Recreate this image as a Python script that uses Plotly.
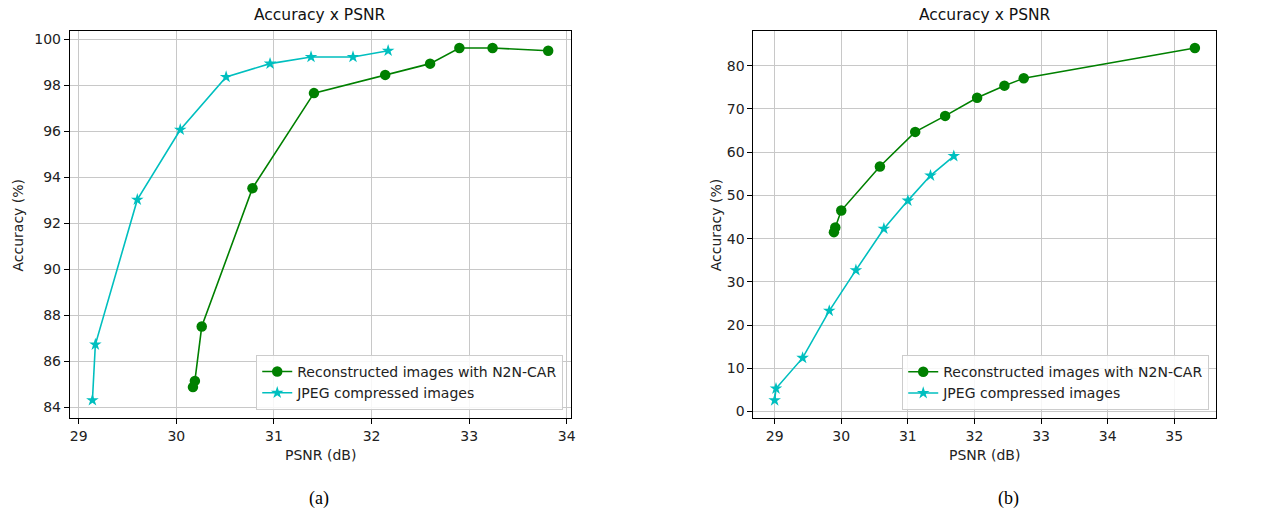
import plotly.graph_objects as go

# ---- data (a) ----
a_n2n_psnr = [30.17, 30.19, 30.26, 30.78, 31.41, 32.14, 32.60, 32.90, 33.24, 33.81]
a_n2n_acc = [84.89, 85.16, 87.52, 93.53, 97.66, 98.45, 98.94, 99.62, 99.62, 99.50]
a_jpeg_psnr = [29.14, 29.17, 29.60, 30.04, 30.51, 30.96, 31.38, 31.81, 32.17]
a_jpeg_acc = [84.32, 86.74, 93.03, 96.07, 98.36, 98.94, 99.23, 99.23, 99.50]

# ---- data (b) ----
b_n2n_psnr = [29.89, 29.91, 30.00, 30.58, 31.11, 31.56, 32.04, 32.45, 32.74, 35.31]
b_n2n_acc = [41.5, 42.6, 46.5, 56.7, 64.7, 68.4, 72.6, 75.4, 77.1, 84.1]
b_jpeg_psnr = [29.00, 29.02, 29.42, 29.82, 30.22, 30.64, 31.00, 31.34, 31.69]
b_jpeg_acc = [2.6, 5.3, 12.4, 23.3, 32.7, 42.3, 48.8, 54.6, 59.1]

series_names = ["Reconstructed images with N2N-CAR", "JPEG compressed images"]
titles = ["Accuracy x PSNR", "Accuracy x PSNR"]
x_label = "PSNR (dB)"
y_label = "Accuracy (%)"
captions = ["(a)", "(b)"]

GREEN = "#008000"
CYAN = "#00bfbf"
W, H = 1285, 514
FONT = "DejaVu Sans"
FS = 14


def px(xp):
    return xp / W


def py(yp):
    return 1 - yp / H


fig = go.Figure()


def add_series(xs, ys, name, color, symbol, size, xa, ya, legend):
    fig.add_trace(go.Scatter(
        x=xs, y=ys, name=name, mode="lines+markers",
        line=dict(color=color, width=1.6),
        marker=dict(color=color, symbol=symbol, size=size, line=dict(width=0)),
        xaxis=xa, yaxis=ya, legend=legend, showlegend=True,
    ))


add_series(a_n2n_psnr, a_n2n_acc, series_names[0], GREEN, "circle", 10.5, "x", "y", "legend")
add_series(a_jpeg_psnr, a_jpeg_acc, series_names[1], CYAN, "star", 9.5, "x", "y", "legend")
add_series(b_n2n_psnr, b_n2n_acc, series_names[0], GREEN, "circle", 10.5, "x2", "y2", "legend2")
add_series(b_jpeg_psnr, b_jpeg_acc, series_names[1], CYAN, "star", 9.5, "x2", "y2", "legend2")

axis_common = dict(
    showline=True, linecolor="black", linewidth=1, mirror=True,
    ticks="outside", ticklen=5, tickcolor="black", tickwidth=1,
    showgrid=True, gridcolor="#c8c8c8", gridwidth=1, zeroline=False,
    tickfont=dict(family=FONT, size=FS, color="#222"),
)

yd = [py(419), py(31)]
legend_common = dict(xanchor="right", yanchor="bottom",
                     bgcolor="rgba(255,255,255,0.85)", bordercolor="#cccccc", borderwidth=1,
                     font=dict(family=FONT, size=FS, color="#222"), tracegroupgap=0)
fig.update_layout(
    width=W, height=H,
    margin=dict(l=0, r=0, t=0, b=0),
    paper_bgcolor="white", plot_bgcolor="white",
    font=dict(family=FONT, size=FS, color="#222"),
    xaxis=dict(domain=[px(70), px(573)], range=[28.908, 34.046], dtick=1, anchor="y", **axis_common),
    yaxis=dict(domain=yd, range=[83.54, 100.36], dtick=2, anchor="x", **axis_common),
    xaxis2=dict(domain=[px(755.7), px(1220)], range=[28.68, 35.63], dtick=1, anchor="y2", **axis_common),
    yaxis2=dict(domain=yd, range=[-1.55, 88.06], dtick=10, anchor="x2", **axis_common),
    legend=dict(x=px(565), y=py(410.7), **legend_common),
    legend2=dict(x=px(1213), y=py(411), **legend_common),
)

ann = []
centers = [(70 + 573) / 2, (755.7 + 1220) / 2]
for cx, t in zip(centers, titles):
    ann.append(dict(x=px(cx), y=py(15), xref="paper", yref="paper", text=t, showarrow=False,
                    xanchor="center", yanchor="middle", font=dict(family=FONT, size=15.5, color="#111")))
for cx in centers:
    ann.append(dict(x=px(cx), y=py(456), xref="paper", yref="paper", text=x_label, showarrow=False,
                    xanchor="center", yanchor="middle", font=dict(family=FONT, size=FS, color="#222")))
for xp in [18, 718]:
    ann.append(dict(x=px(xp), y=py(225), xref="paper", yref="paper", text=y_label, showarrow=False,
                    textangle=-90, xanchor="center", yanchor="middle", font=dict(family=FONT, size=FS, color="#222")))
for cx, c in zip([320, 1012], captions):
    ann.append(dict(x=px(cx), y=py(499), xref="paper", yref="paper", text=c, showarrow=False,
                    xanchor="center", yanchor="middle", font=dict(family="Liberation Serif", size=18, color="black")))
fig.update_layout(annotations=ann)

fig.write_html("out.html",
               config={"displayModeBar": False},
               post_script="document.body.style.margin='0px';document.body.style.overflow='hidden';")
